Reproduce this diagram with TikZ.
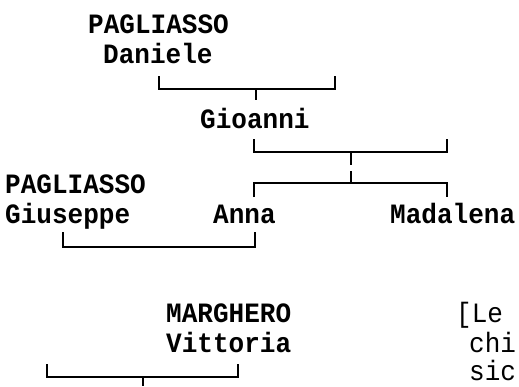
\documentclass[tikz,border=0pt]{standalone}
\usepackage{fontspec}
\setmonofont{Liberation Mono}[FakeStretch=0.93]
\usetikzlibrary{positioning}
\tikzstyle{person} = [inner sep=0pt, anchor=base west, font=\ttfamily\bfseries\fontsize{28}{30}\selectfont]
\tikzstyle{note} = [inner sep=0pt, anchor=base west, font=\ttfamily\fontsize{28}{30}\selectfont]
\tikzstyle{bracket} = [line width=1.3pt]

\begin{document}
\begin{tikzpicture}[x=1pt,y=-1pt]
\useasboundingbox (0,0) rectangle (519,386);

\node (surpa) [person] at (88,33) {PAGLIASSO};
\node (daniele) [person] at (103,63) {Daniele};

\coordinate (d1l) at (159,76);
\coordinate (d1r) at (335,76);
\coordinate (d1h) at (256,89);
\coordinate (d1c) at (256,100);
\draw[bracket] (d1l) |- (d1h) -| (d1r);
\draw[bracket] (d1h) -- (d1c);

\node (gioanni) [person] at (200,128) {Gioanni};

\coordinate (g2l) at (254,139);
\coordinate (g2r) at (447,139);
\coordinate (g2h) at (351,152);
\coordinate (g2c) at (351,165);
\draw[bracket] (g2l) |- (g2h) -| (g2r);
\draw[bracket] (g2h) -- (g2c);

\coordinate (c2c) at (351,171);
\coordinate (c2h) at (351,183);
\coordinate (c2l) at (254,197);
\coordinate (c2r) at (447,197);
\draw[bracket] (c2c) -- (c2h);
\draw[bracket] (c2l) |- (c2h) -| (c2r);

\node (surpb) [person] at (5,193) {PAGLIASSO};
\node (giuseppe) [person] at (5,223) {Giuseppe};
\node (anna) [person] at (213,223) {Anna};
\node (madalena) [person] at (390,223) {Madalena};

\coordinate (m3l) at (63,232);
\coordinate (m3r) at (255,232);
\coordinate (m3h) at (159,247);
\draw[bracket] (m3l) |- (m3h) -| (m3r);

\node (surma) [person] at (166,322) {MARGHERO};
\node (vittoria) [person] at (166,352) {Vittoria};

\coordinate (m4l) at (47,364);
\coordinate (m4r) at (238,364);
\coordinate (m4h) at (143,377);
\coordinate (m4c) at (143,386);
\draw[bracket] (m4l) |- (m4h) -| (m4r);
\draw[bracket] (m4h) -- (m4c);

\node (nle) [note] at (456,322) {[Le};
\node (nchi) [note] at (469,352) {chi};
\node (nsic) [note] at (469,380) {sic};

\end{tikzpicture}
\end{document}
